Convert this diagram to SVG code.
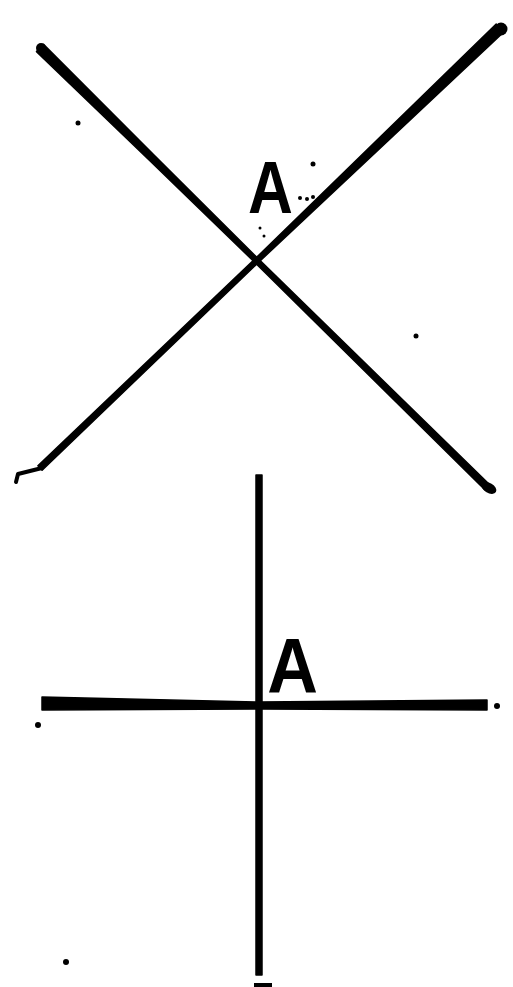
<svg xmlns="http://www.w3.org/2000/svg" width="513" height="987" viewBox="0 0 513 987">
<style>
.ink{fill:#000;stroke:#000;stroke-width:1.5;stroke-linejoin:round}
.lbl{font-family:"Liberation Sans",Arial,sans-serif;font-weight:bold;fill:#000}
.speck{fill:#000}
</style>
<rect width="513" height="987" fill="#fff"/>
<g id="connectors">
<g id="line-x1">
<polygon class="ink" points="36.5,51.6 149.6,160.5 255.6,263.2 485.6,490.5 490.5,485.5 259.1,259.6 154.5,155.5 43.5,44.4"/>
<circle class="speck" cx="41" cy="48" r="5"/>
<ellipse class="speck" cx="489" cy="488" rx="8" ry="5" transform="rotate(30 489 488)"/>
</g>
<g id="line-x2">
<polygon class="ink" points="496.2,24 382.2,135.1 255.3,258.6 37.9,465.8 42.1,470.2 258.7,262.2 387.8,140.9 503.8,32"/>
<circle class="speck" cx="501" cy="29" r="6.5"/>
<path d="M42,468 L26,472 L18,474 L16,482" fill="none" stroke="#000" stroke-width="4" stroke-linejoin="round" stroke-linecap="round"/>
</g>
<g id="line-vertical">
<polygon class="ink" points="256,475 262,475 262,975 256,975"/>
<rect x="254" y="983" width="18" height="4" class="speck"/>
</g>
<g id="line-horizontal">
<polygon class="ink" points="42,697 259,702 487,700 487,710 259,709 42,710"/>
<circle class="speck" cx="497" cy="706" r="3"/>
</g>
</g>
<g id="node-A-top">
<text class="lbl" font-size="74" text-anchor="middle" transform="translate(270.5,213) scale(0.84,1)">A</text>
<circle class="speck" cx="300" cy="198" r="2"/>
<circle class="speck" cx="307" cy="199" r="2"/>
<circle class="speck" cx="313" cy="197" r="2"/>
<circle class="speck" cx="313" cy="164" r="2.5"/>
<circle class="speck" cx="260" cy="228" r="1.5"/>
<circle class="speck" cx="264" cy="236" r="1.5"/>
</g>
<g id="node-A-bottom">
<text class="lbl" font-size="78" text-anchor="middle" transform="translate(292.5,693) scale(0.9,1)">A</text>
</g>
<g id="specks">
<circle class="speck" cx="38" cy="725" r="3"/>
<circle class="speck" cx="66" cy="962" r="3"/>
<circle class="speck" cx="78" cy="123" r="2.5"/>
<circle class="speck" cx="416" cy="336" r="2.5"/>
</g>
</svg>
